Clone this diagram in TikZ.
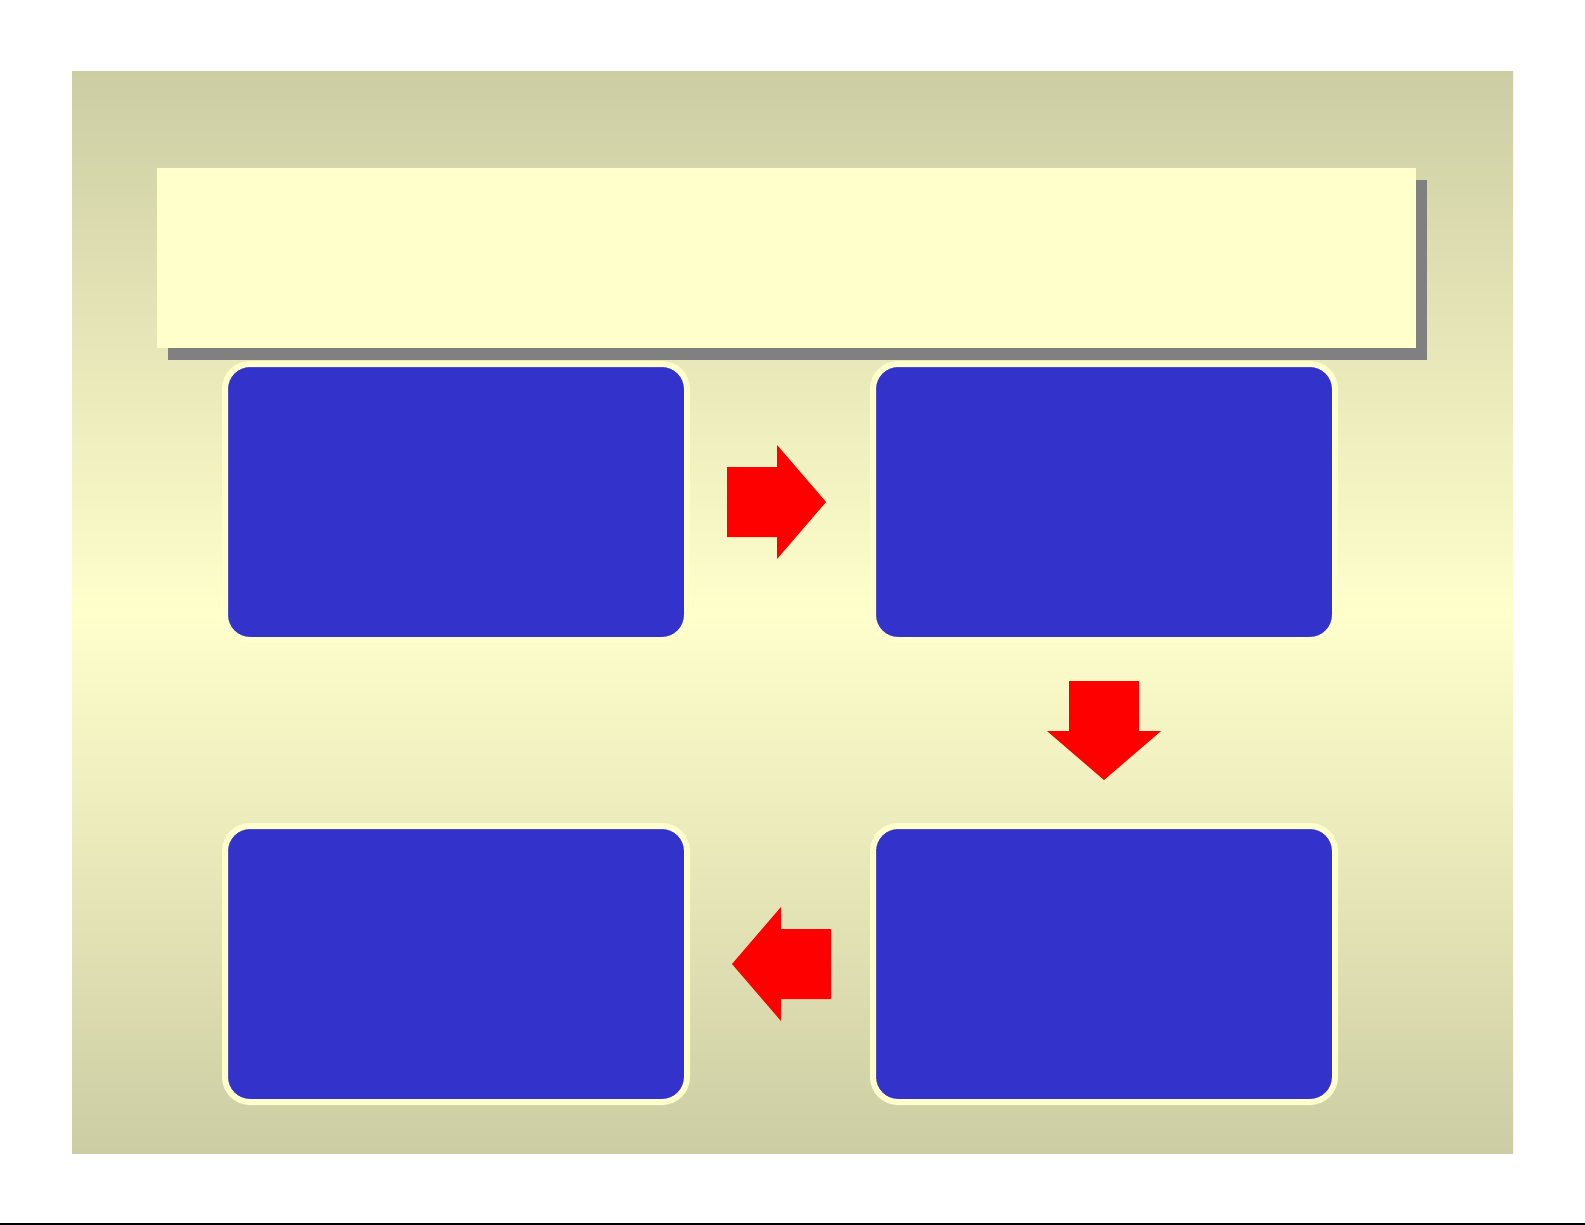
\documentclass[tikz,border=0pt]{standalone}
\usetikzlibrary{positioning,shadows}
\definecolor{paneltan}{RGB}{205,205,164}
\definecolor{panelcream}{RGB}{255,255,204}
\definecolor{stepblue}{RGB}{51,51,204}
\definecolor{shadowgray}{RGB}{128,128,128}
\tikzset{
  stepbox/.style={rectangle, rounded corners=12.5pt, fill=stepblue, draw=panelcream,
    line width=3pt, minimum width=231pt, minimum height=138pt, inner sep=0pt, outer sep=0pt},
  blockarrow/.pic={\fill[red] (0,-35) -- (50,-35) -- (50,-57) -- (99,0) -- (50,57) -- (50,35) -- (0,35) -- cycle;}
}
\begin{document}
\begin{tikzpicture}[x=0.5pt, y=-0.5pt]
			\useasboundingbox (0,0) rectangle (1585,1225);
			\shade[top color=paneltan, bottom color=paneltan, middle color=panelcream] (72,72) rectangle (1513,1153);
			\fill[black] (0,1223) rectangle (1585,1225);
			
			\node[rectangle, fill=panelcream, minimum width=629.5pt, minimum height=90pt, inner sep=0pt,
			  drop shadow={shadow xshift=5.5pt, shadow yshift=-6pt, fill=shadowgray, opacity=1}] (title) at (786.5,258) {};
			
			\node[stepbox] (tl) at (456,502) {};
			\node[stepbox, right = 93pt of tl] (tr) {};
			\node[stepbox, below = 93pt of tr] (br) {};
			\node[stepbox, below = 93pt of tl] (bl) {};
			
			\coordinate[right = 20pt of tl] (rtail);
			\coordinate[below = 20.5pt of tr] (dtail);
			\coordinate[left = 21pt of br] (ltail);
			
			\pic at (rtail) {blockarrow};
			\pic[rotate=-90] at (dtail) {blockarrow};
			\pic[rotate=180] at (ltail) {blockarrow};
			
		\end{tikzpicture}
\end{document}
